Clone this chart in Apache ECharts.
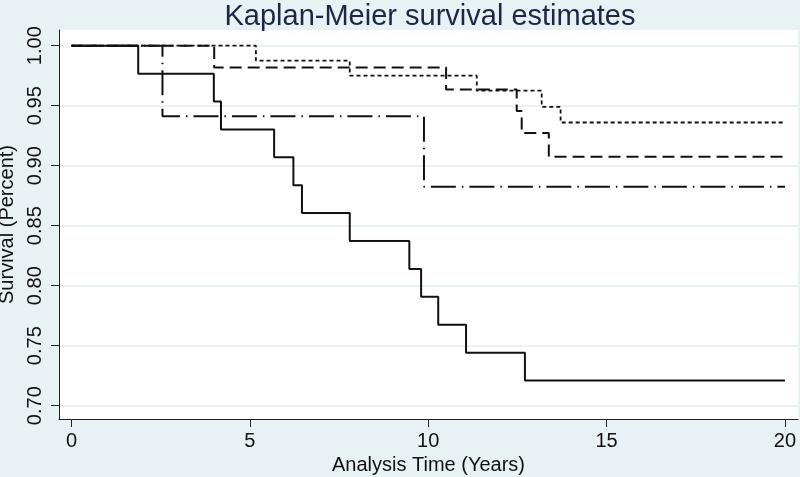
<!DOCTYPE html>
<html>
<head>
<meta charset="utf-8">
<script src="https://cdn.jsdelivr.net/npm/echarts@6/dist/echarts.min.js"></script>
<style>
html,body{margin:0;padding:0;background:#e8f1f3;}
#chart{width:800px;height:477px;}
</style>
</head>
<body>
<div id="chart"></div>
<script>
// Kaplan-Meier step data (time in years, survival after event)
const solidTimes  = [0, 1.87, 3.99, 4.19, 5.68, 6.22, 6.46, 7.80, 9.47, 9.80, 10.28, 11.06, 12.71, 20];
const solidSurv   = [1.0, 0.9767, 0.9535, 0.9302, 0.9070, 0.8837, 0.8605, 0.8372, 0.8140, 0.7907, 0.7674, 0.7442, 0.7209, 0.7209];

const dashDotTimes = [0, 2.55, 9.88, 20];
const dashDotSurv  = [1.0, 0.9412, 0.8824, 0.8824];

const dashTimes = [0, 4.00, 10.50, 12.48, 12.62, 13.38, 20];
const dashSurv  = [1.0, 0.9818, 0.9636, 0.9455, 0.9273, 0.9075, 0.9075];

const dotTimes = [0, 5.17, 7.80, 11.36, 13.18, 13.71, 20];
const dotSurv  = [1.0, 0.9875, 0.975, 0.9625, 0.949, 0.936, 0.936];

const xTicks = [0, 5, 10, 15, 20];
const yTicks = [0.70, 0.75, 0.80, 0.85, 0.90, 0.95, 1.00];

function pairs(t, s) { return t.map((v, i) => [v, s[i]]); }

const chart = echarts.init(document.getElementById('chart'), null, {renderer: 'canvas'});
const FONT = 'Liberation Sans';
const lineBase = {type: 'line', step: 'end', symbol: 'none', silent: true, z: 3};

chart.setOption({
  backgroundColor: '#e8f1f3',
  animation: false,
  title: {
    text: 'Kaplan-Meier survival estimates',
    left: 425, top: -3, textAlign: 'center',
    textStyle: {fontFamily: FONT, fontSize: 29, fontWeight: 'normal', color: '#1c2748'}
  },
  grid: {
    left: 59, right: 2, top: 30, bottom: 58,
    outerBoundsMode: 'none', containLabel: false,
    show: true, backgroundColor: '#ffffff', borderWidth: 0
  },
  xAxis: {
    type: 'value',
    min: -0.3504, max: 20.365,
    name: 'Analysis Time (Years)',
    nameLocation: 'middle', nameGap: 36,
    nameTextStyle: {fontFamily: FONT, fontSize: 20, color: '#111'},
    axisLine: {show: true, onZero: false, lineStyle: {color: '#222', width: 1}},
    axisTick: {show: true, length: 8, customValues: xTicks, lineStyle: {color: '#222'}},
    axisLabel: {customValues: xTicks, margin: 12, fontFamily: FONT, fontSize: 20, color: '#111'},
    splitLine: {show: false}
  },
  yAxis: {
    type: 'value',
    min: 0.68892, max: 1.01308,
    name: 'Survival (Percent)',
    nameLocation: 'middle', nameGap: 38, nameRotate: 90,
    nameTextStyle: {fontFamily: FONT, fontSize: 20, color: '#111'},
    axisLine: {show: true, onZero: false, lineStyle: {color: '#222', width: 1}},
    axisTick: {show: true, length: 8, customValues: yTicks, lineStyle: {color: '#222'}},
    axisLabel: {
      customValues: yTicks, rotate: 90, margin: 14,
      fontFamily: FONT, fontSize: 20, color: '#111',
      formatter: v => v.toFixed(2)
    },
    splitLine: {show: true, lineStyle: {color: '#e3eef0', width: 1.5}}
  },
  series: [
    Object.assign({}, lineBase, {name: 'Group A', data: pairs(dotTimes, dotSurv),
      lineStyle: {color: '#111', width: 1.8, type: [4, 3]}}),
    Object.assign({}, lineBase, {name: 'Group B', data: pairs(dashTimes, dashSurv),
      lineStyle: {color: '#111', width: 2, type: [12, 6]}}),
    Object.assign({}, lineBase, {name: 'Group C', data: pairs(dashDotTimes, dashDotSurv),
      lineStyle: {color: '#111', width: 2, type: [25, 6, 1.5, 6]}}),
    Object.assign({}, lineBase, {name: 'Group D', data: pairs(solidTimes, solidSurv),
      lineStyle: {color: '#111', width: 2, type: 'solid'}})
  ]
});
</script>
</body>
</html>
